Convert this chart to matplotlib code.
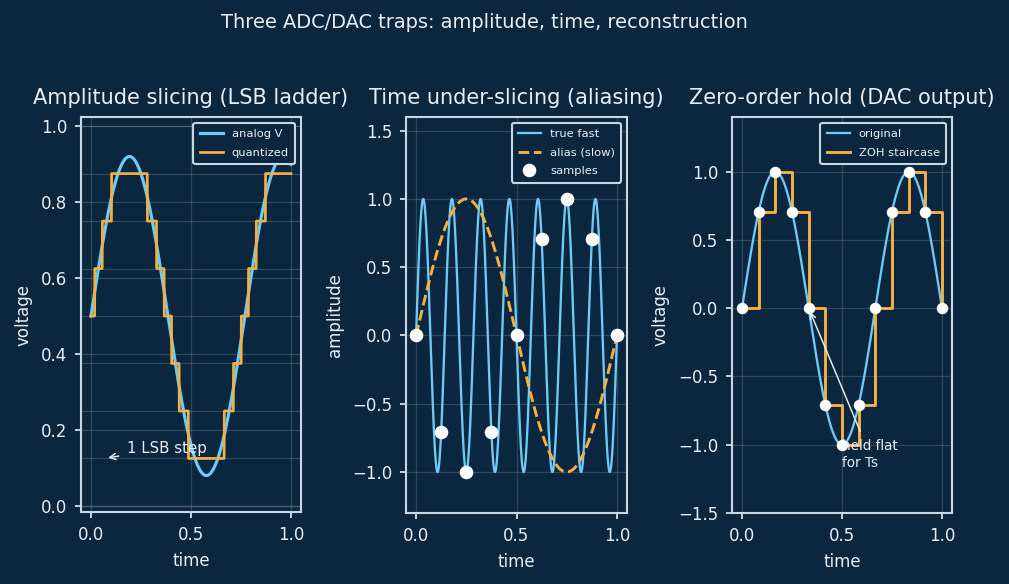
import numpy as np
import matplotlib
matplotlib.use("Agg")
import matplotlib.pyplot as plt

BG = "#0b2740"
FG = "#e8eef4"
SPINE = "#c9d6e3"
CYAN = "#6ecbf5"
ORANGE = "#f5b041"

# ---- data ----
# Panel 1: analog voltage and 3-bit quantization
analog_offset = 0.5
analog_amp = 0.42
analog_freq = 1.3
lsb_levels = [0.0, 0.125, 0.25, 0.375, 0.5, 0.625, 0.75, 0.875, 1.0]

# Panel 2: fast tone, alias, samples
fast_freq = 7
alias_freq = 1
sample_times = [0.0, 0.125, 0.25, 0.375, 0.5, 0.625, 0.75, 0.875, 1.0]
sample_values = [0.0, -0.707, -1.0, -0.707, 0.0, 0.707, 1.0, 0.707, 0.0]

# Panel 3: ZOH reconstruction
orig_freq = 1.5
zoh_times = [0.0, 0.0833, 0.1667, 0.25, 0.3333, 0.4167, 0.5, 0.5833,
             0.6667, 0.75, 0.8333, 0.9167, 1.0]
zoh_values = [0.0, 0.707, 1.0, 0.707, 0.0, -0.707, -1.0, -0.707,
              0.0, 0.707, 1.0, 0.707, 0.0]

plt.rcParams.update({
    "font.family": ["DejaVu Sans"],
    "text.color": FG,
    "axes.labelcolor": FG,
    "xtick.color": FG,
    "ytick.color": FG,
    "axes.edgecolor": SPINE,
})

W, H, DPI = 1009, 584, 150
fig = plt.figure(figsize=(W / DPI, H / DPI), dpi=DPI, facecolor=BG)

def px_axes(l, r, t, b):
    return fig.add_axes([l / W, 1 - b / H, (r - l) / W, (b - t) / H])

ax1 = px_axes(81, 301, 117, 512)
ax2 = px_axes(406, 627, 117, 513)
ax3 = px_axes(732, 952, 117, 513)

for ax in (ax1, ax2, ax3):
    ax.set_facecolor(BG)
    ax.grid(True, color="white", alpha=0.15, linewidth=0.6)
    ax.tick_params(labelsize=8, length=3, width=0.8)
    for s in ax.spines.values():
        s.set_linewidth(1.0)
        s.set_color(SPINE)
    ax.set_axisbelow(True)

def style_legend(leg):
    leg.get_frame().set_facecolor(BG)
    leg.get_frame().set_edgecolor(SPINE)
    leg.get_frame().set_alpha(1.0)
    for t in leg.get_texts():
        t.set_color(FG)

LEG = dict(loc="upper right", fontsize=5.5, labelspacing=0.75, borderpad=0.55)

# Panel 1
t = np.linspace(0, 1, 1000)
v = analog_offset + analog_amp * np.sin(2 * np.pi * analog_freq * t)
q = np.round(v * 8) / 8
for lv in lsb_levels:
    ax1.axhline(lv, color="white", alpha=0.15, linewidth=0.6, zorder=0)
ax1.plot(t, v, color=CYAN, lw=1.5, label="analog V")
ax1.plot(t, q, color=ORANGE, lw=1.3, label="quantized")
ax1.set_ylim(-0.016, 1.024)
ax1.set_xticks([0.0, 0.5, 1.0])
ax1.set_title("Amplitude slicing (LSB ladder)", color=FG, fontsize=10)
ax1.set_xlabel("time", fontsize=8)
ax1.set_ylabel("voltage", fontsize=8)
ax1.annotate("1 LSB step", xy=(0.065, 0.125), xytext=(0.18, 0.14),
             color=FG, fontsize=7.2,
             arrowprops=dict(arrowstyle="->", color=FG, lw=0.7))
style_legend(ax1.legend(**LEG))

# Panel 2
ax2.plot(t, np.sin(2 * np.pi * fast_freq * t), color=CYAN, lw=1.1, label="true fast")
ax2.plot(t, np.sin(2 * np.pi * alias_freq * t), color=ORANGE, lw=1.4, ls="--",
         label="alias (slow)")
ax2.plot(sample_times, sample_values, "o", color="white", ms=5.5, ls="none",
         label="samples", zorder=5)
ax2.set_ylim(-1.3, 1.6)
ax2.set_xticks([0.0, 0.5, 1.0])
ax2.set_title("Time under-slicing (aliasing)", color=FG, fontsize=10)
ax2.set_xlabel("time", fontsize=8)
ax2.set_ylabel("amplitude", fontsize=8)
style_legend(ax2.legend(**LEG))

# Panel 3
ax3.plot(t, np.sin(2 * np.pi * orig_freq * t), color=CYAN, lw=1.1, label="original")
ax3.step(zoh_times, zoh_values, where="post", color=ORANGE, lw=1.4,
         label="ZOH staircase")
ax3.plot(zoh_times, zoh_values, "o", color="white", ms=4.5, ls="none", zorder=5)
ax3.set_ylim(-1.5, 1.4)
ax3.set_xticks([0.0, 0.5, 1.0])
ax3.set_title("Zero-order hold (DAC output)", color=FG, fontsize=10)
ax3.set_xlabel("time", fontsize=8)
ax3.set_ylabel("voltage", fontsize=8)
ax3.annotate("held flat\nfor Ts", xy=(0.3333, 0.0), xytext=(0.5, -1.16),
             color=FG, fontsize=6.5,
             arrowprops=dict(arrowstyle="->", color=FG, lw=0.7))
style_legend(ax3.legend(**LEG))

fig.suptitle("Three ADC/DAC traps: amplitude, time, reconstruction",
             color=FG, fontsize=9.3, x=0.48, y=0.977)

fig.savefig("out.png", dpi=DPI, facecolor=BG)
